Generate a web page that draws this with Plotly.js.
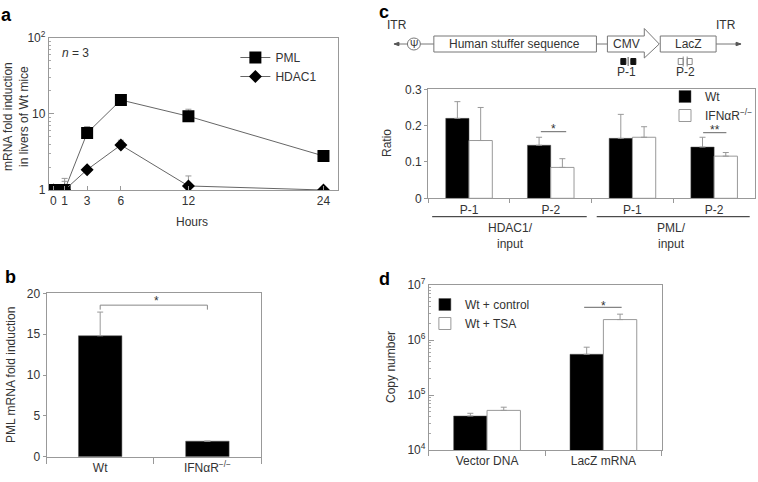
<!DOCTYPE html>
<html><head><meta charset="utf-8">
<script src="https://cdn.plot.ly/plotly-3.0.1.min.js"></script>
<style>html,body{margin:0;padding:0;background:#fff}#chart{width:758px;height:482px}</style>
</head><body><div id="chart"></div>
<script>
// ---------- Panel a: time course ----------
const hours = [0, 1, 3, 6, 12, 24];
const pmlFold = [1, 1, 5.6, 15.2, 9.3, 2.8];
const pmlFoldErr = [null, 0.3, 1.2, 1.7, 2.2, null];
const hdacFold = [1, 1, 1.85, 3.9, 1.13, 1.0];
const hdacFoldErr = [null, 0.42, null, 0.6, 0.4, null];
// ---------- Panel b ----------
const genotypes = ['Wt', 'IFNαR<sup>−/−</sup>'];
const pmlInduction = [14.8, 1.9];
const pmlInductionErr = [2.9, null];
// ---------- Panel c ----------
const probes = ['HDAC1 P-1', 'HDAC1 P-2', 'PML P-1', 'PML P-2'];
const probeLabels = ['P-1', 'P-2', 'P-1', 'P-2'];
const wtRatio = [0.22, 0.146, 0.165, 0.141];
const wtRatioErr = [0.046, 0.022, 0.066, 0.027];
const koRatio = [0.159, 0.085, 0.168, 0.116];
const koRatioErr = [0.091, 0.024, 0.029, 0.010];
// ---------- Panel d ----------
const targets = ['Vector DNA', 'LacZ mRNA'];
const controlCopies = [41500, 550000];
const controlCopiesErr = [5000, 190000];
const tsaCopies = [52500, 2350000];
const tsaCopiesErr = [7500, 600000];

const W = 758, H = 482;
const px = x => x / W, py = y => 1 - y / H;
const P = (x, y) => px(x) + ',' + py(y);
const font = {family: 'Liberation Sans, Arial, Helvetica, sans-serif', size: 12, color: '#333'};
const axisLine = '#999';
const zeros = a => a.map(() => 0);
const errStyle = (arr) => ({type: 'data', symmetric: false, array: arr, arrayminus: zeros(arr), color: '#999', thickness: 1, width: 3});

function axis(extra) {
  return Object.assign({showgrid: false, zeroline: false, showline: true, linecolor: axisLine, linewidth: 1,
    mirror: true, tickfont: font, tickcolor: axisLine, fixedrange: true}, extra);
}

const traces = [
  {x: hours, y: pmlFold, name: 'PML', type: 'scatter', mode: 'lines+markers', xaxis: 'x', yaxis: 'y', legend: 'legend',
   line: {color: '#666', width: 1}, marker: {symbol: 'square', size: 12, color: '#000'}, error_y: errStyle(pmlFoldErr)},
  {x: hours, y: hdacFold, name: 'HDAC1', type: 'scatter', mode: 'lines+markers', xaxis: 'x', yaxis: 'y', legend: 'legend',
   line: {color: '#666', width: 1}, marker: {symbol: 'diamond', size: 10, color: '#000'}, error_y: errStyle(hdacFoldErr)},
  {x: genotypes, y: pmlInduction, type: 'bar', xaxis: 'x2', yaxis: 'y2', showlegend: false, width: 0.405, offset: -0.2025,
   marker: {color: '#000', line: {color: '#555', width: 0.5}}, error_y: errStyle(pmlInductionErr)},
  {x: probes, y: wtRatio, name: 'Wt', type: 'bar', xaxis: 'x3', yaxis: 'y3', legend: 'legend2', width: 0.285, offset: -0.285,
   marker: {color: '#000', line: {color: '#555', width: 0.5}}, error_y: errStyle(wtRatioErr)},
  {x: probes, y: koRatio, name: 'IFNαR<sup>−/−</sup>', type: 'bar', xaxis: 'x3', yaxis: 'y3', legend: 'legend2', width: 0.285, offset: 0,
   marker: {color: '#fff', line: {color: '#999', width: 1}}, error_y: errStyle(koRatioErr)},
  {x: targets, y: controlCopies, name: 'Wt + control', type: 'bar', xaxis: 'x4', yaxis: 'y4', legend: 'legend3', width: 0.287, offset: -0.287,
   marker: {color: '#000', line: {color: '#555', width: 0.5}}, error_y: errStyle(controlCopiesErr)},
  {x: targets, y: tsaCopies, name: 'Wt + TSA', type: 'bar', xaxis: 'x4', yaxis: 'y4', legend: 'legend3', width: 0.287, offset: 0,
   marker: {color: '#fff', line: {color: '#999', width: 1}}, error_y: errStyle(tsaCopiesErr)}
];

const legendBase = {font: font, bgcolor: 'rgba(0,0,0,0)', tracegroupgap: 0, itemwidth: 30, xanchor: 'left', yanchor: 'top', itemclick: false};

const ann = (x, y, text, extra) => Object.assign({xref: 'paper', yref: 'paper', x: px(x), y: py(y), text: text,
  showarrow: false, font: font, xanchor: 'center', yanchor: 'middle'}, extra || {});
const bold = {font: {family: 'Liberation Sans, Arial, sans-serif', size: 18, color: '#000', weight: 'bold'}};

const annotations = [
  ann(7, 15, '<b>a</b>', bold), ann(11, 277, '<b>b</b>', bold), ann(385, 12, '<b>c</b>', bold), ann(386, 279, '<b>d</b>', bold),
  ann(16, 116, 'mRNA fold induction<br>in livers of Wt mice', {textangle: -90}),
  ann(193, 222, 'Hours'),
  ann(76, 53, '<i>n</i> = 3'),
  ann(11, 375, 'PML mRNA fold induction', {textangle: -90}),
  ann(157, 301, '*'),
  ann(388, 143, 'Ratio', {textangle: -90}),
  ann(555, 129, '*'), ann(716.7, 130, '**'),
  ann(512, 236, 'HDAC1/<br>input'), ann(673, 236, 'PML/<br>input'),
  ann(392, 367, 'Copy number', {textangle: -90}),
  ann(605, 306, '*'),
  // construct diagram
  ann(398, 25, 'ITR'), ann(728, 25, 'ITR'),
  ann(415, 44, 'Ψ', {font: Object.assign({}, font, {size: 10})}),
  ann(516, 44, 'Human stuffer sequence'),
  ann(628, 44, 'CMV'), ann(690, 44, 'LacZ'),
  ann(628, 72, 'P-1'), ann(687, 72, 'P-2')
];

const stroke = {color: '#777', width: 1};
const pline = (x0, y0, x1, y1, color, width) => ({type: 'line', xref: 'paper', yref: 'paper',
  x0: px(x0), y0: py(y0), x1: px(x1), y1: py(y1), line: {color: color || '#777', width: width || 1}});
const prect = (x0, y0, x1, y1, fill, lc) => ({type: 'rect', xref: 'paper', yref: 'paper',
  x0: px(x0), y0: py(y0), x1: px(x1), y1: py(y1), fillcolor: fill || 'rgba(0,0,0,0)', line: {color: lc || '#777', width: 1}});
const ppath = (pts, fill, lc) => ({type: 'path', xref: 'paper', yref: 'paper',
  path: 'M' + pts.map(p => P(p[0], p[1])).join(' L') + ' Z', fillcolor: fill || 'rgba(0,0,0,0)', line: {color: lc || '#777', width: 1}});

const shapes = [
  // panel b significance bracket (data coords)
  {type: 'line', xref: 'x2', yref: 'y2', x0: genotypes[0], x1: genotypes[1], y0: 18.55, y1: 18.55, line: {color: '#888', width: 1}},
  {type: 'line', xref: 'x2', yref: 'y2', x0: genotypes[0], x1: genotypes[0], y0: 18.55, y1: 18.0, line: {color: '#888', width: 1}},
  {type: 'line', xref: 'x2', yref: 'y2', x0: genotypes[1], x1: genotypes[1], y0: 18.55, y1: 18.0, line: {color: '#888', width: 1}},
  // panel c significance and group underlines
  pline(542.3, 131.7, 567.7, 131.7, '#666'),
  pline(705, 132.7, 728.3, 132.7, '#666'),
  pline(433.3, 216.7, 588.3, 216.7, '#222'),
  pline(598.3, 216.7, 751.7, 216.7, '#222'),
  // panel d significance
  pline(585.7, 307.3, 623.3, 307.3, '#666'),
  // construct diagram
  pline(399, 44, 409, 44),
  ppath([[395, 44], [400, 42.3], [400, 45.7]], '#555', '#555'),
  {type: 'circle', xref: 'paper', yref: 'paper', x0: px(408.5), x1: px(421.5), y0: py(50), y1: py(38), line: stroke},
  pline(421.5, 44, 435, 44),
  prect(435, 36, 598, 52),
  pline(598, 44, 609, 44),
  ppath([[609, 36], [646, 36], [646, 28.5], [661, 44], [646, 58], [646, 52], [609, 52]]),
  prect(662, 36, 718, 52),
  pline(718, 44, 738, 44),
  ppath([[743, 44], [738, 42.3], [738, 45.7]], '#555', '#555'),
  prect(622.5, 58.5, 627.5, 64.5, '#111', '#111'),
  prect(632.5, 58.5, 637.5, 64.5, '#111', '#111'),
  pline(629.8, 57, 629.8, 66, '#555'),
  prect(680, 58.5, 685, 64.5, '#fff', '#888'),
  prect(689, 58.5, 694, 64.5, '#fff', '#888'),
  pline(685, 56.5, 685, 66.5, '#888'),
  pline(689, 56.5, 689, 66.5, '#888')
];

const layout = {
  width: W, height: H, margin: {l: 0, r: 0, t: 0, b: 0}, paper_bgcolor: '#fff', plot_bgcolor: 'rgba(0,0,0,0)',
  font: font, bargap: 0.43, bargroupgap: 0,
  xaxis: axis({domain: [px(49), px(339)], range: [-0.4, 25.3], tickmode: 'array', tickvals: hours, ticks: 'inside', ticklen: 4, anchor: 'y'}),
  yaxis: axis({domain: [py(190), py(37.7)], type: 'log', range: [0, 2], tickmode: 'array', tickvals: [1, 10, 100],
    ticktext: ['1', '10', '10<sup>2</sup>'], ticks: 'inside', ticklen: 5, anchor: 'x',
    minor: {ticks: 'inside', ticklen: 2, tickcolor: '#aaa', dtick: 'D1'}}),
  xaxis2: axis({domain: [px(46.7), px(261.7)], type: 'category', range: [-0.5, 1.5], tickson: 'boundaries', ticks: 'outside', ticklen: 6, anchor: 'y2'}),
  yaxis2: axis({domain: [py(456.7), py(293.3)], range: [0, 20], dtick: 5, ticks: 'outside', ticklen: 3, anchor: 'x2'}),
  xaxis3: axis({domain: [px(429.3), px(757)], type: 'category', range: [-0.5, 3.5], tickmode: 'array', tickvals: probes,
    ticktext: probeLabels, tickson: 'boundaries', ticks: 'outside', ticklen: 4, anchor: 'y3'}),
  yaxis3: axis({domain: [py(198.3), py(89.3)], range: [0, 0.3], tickmode: 'array', tickvals: [0, 0.1, 0.2, 0.3],
    ticktext: ['0', '0.1', '0.2', '0.3'], ticks: 'outside', ticklen: 3, anchor: 'x3'}),
  xaxis4: axis({domain: [px(430), px(663.3)], type: 'category', range: [-0.5, 1.5], tickson: 'boundaries', ticks: 'outside', ticklen: 5, anchor: 'y4'}),
  yaxis4: axis({domain: [py(450), py(285)], type: 'log', range: [4, 7], tickmode: 'array', tickvals: [1e4, 1e5, 1e6, 1e7],
    ticktext: ['10<sup>4</sup>', '10<sup>5</sup>', '10<sup>6</sup>', '10<sup>7</sup>'], ticks: 'inside', ticklen: 5, anchor: 'x4',
    minor: {ticks: 'inside', ticklen: 2, tickcolor: '#aaa', dtick: 'D1'}}),
  legend: Object.assign({}, legendBase, {x: px(236), y: py(43)}),
  legend2: Object.assign({}, legendBase, {x: px(667), y: py(82)}),
  legend3: Object.assign({}, legendBase, {x: px(426), y: py(290)}),
  annotations: annotations,
  shapes: shapes,
  showlegend: true
};

Plotly.newPlot('chart', traces, layout, {staticPlot: true, displayModeBar: false});
</script></body></html>
